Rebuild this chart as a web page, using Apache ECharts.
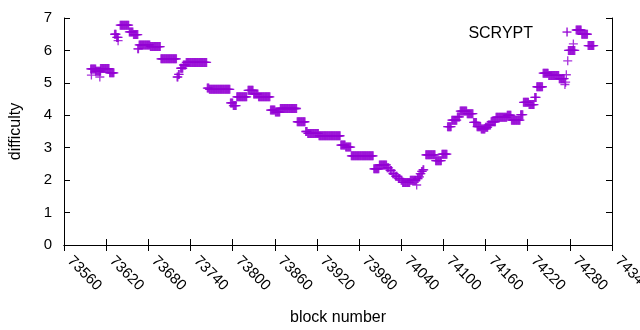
<!DOCTYPE html>
<html>
<head>
<meta charset="utf-8">
<script src="https://cdn.jsdelivr.net/npm/echarts@6/dist/echarts.min.js"></script>
<style>
html, body { margin: 0; padding: 0; background: #fff; }
#chart { width: 640px; height: 330px; }
</style>
</head>
<body>
<div id="chart"></div>
<script>
// difficulty stays flat over runs of blocks: [first block, last block, difficulty]
var runStart = [73598, 73599, 73605, 73611, 73612, 73625, 73632, 73635, 73637, 73640,
  73653, 73659, 73665, 73667, 73683, 73698, 73721, 73723, 73726, 73730,
  73734, 73764, 73767, 73797, 73801, 73806, 73822, 73830, 73837, 73854,
  73861, 73868, 73892, 73904, 73907, 73923, 73954, 73961, 73969, 74001,
  74009, 74020, 74024, 74028, 74032, 74036, 74040, 74042, 74053, 74062,
  74063, 74065, 74067, 74069, 74071, 74075, 74089, 74098, 74106, 74112,
  74120, 74124, 74134, 74143, 74148, 74154, 74160, 74164, 74168, 74175,
  74191, 74197, 74210, 74214, 74222, 74230, 74233, 74242, 74250, 74265,
  74273, 74274, 74275, 74277, 74278, 74285, 74289, 74297, 74306];
var runEnd = [73605, 73599, 73612, 73611, 73624, 73631, 73634, 73637, 73637, 73652,
  73658, 73665, 73666, 73682, 73697, 73720, 73722, 73724, 73729, 73733,
  73763, 73766, 73796, 73800, 73805, 73820, 73829, 73836, 73853, 73860,
  73867, 73891, 73903, 73906, 73922, 73953, 73960, 73968, 74000, 74008,
  74019, 74022, 74026, 74030, 74034, 74038, 74041, 74052, 74061, 74062,
  74064, 74066, 74068, 74070, 74072, 74088, 74097, 74105, 74111, 74119,
  74123, 74133, 74142, 74147, 74153, 74159, 74163, 74167, 74174, 74190,
  74196, 74209, 74213, 74221, 74229, 74232, 74241, 74249, 74264, 74272,
  74273, 74274, 74275, 74277, 74287, 74285, 74296, 74305, 74314];
var runDiff = [5.43, 5.24, 5.36, 5.18, 5.44, 5.31, 6.5, 6.4, 6.3, 6.78,
  6.57, 6.49, 6.05, 6.17, 6.12, 5.74, 5.18, 5.26, 5.45, 5.55,
  5.63, 4.84, 4.8, 4.38, 4.3, 4.57, 4.77, 4.66, 4.57, 4.16,
  4.1, 4.21, 3.8, 3.5, 3.44, 3.37, 3.08, 3.02, 2.75, 2.35,
  2.47, 2.38, 2.3, 2.2, 2.12, 2.05, 2.0, 1.93, 2.0, 1.85,
  2.05, 2.1, 2.2, 2.27, 2.32, 2.78, 2.6, 2.8, 3.65, 3.85,
  3.95, 4.13, 4.05, 3.78, 3.65, 3.58, 3.63, 3.7, 3.8, 3.94,
  4.0, 3.85, 4.02, 4.4, 4.33, 4.55, 4.88, 5.3, 5.23, 5.13,
  4.95, 5.02, 5.25, 5.68, 6.0, 6.2, 6.63, 6.5, 6.15];

var seriesName = 'SCRYPT';
var xMin = 73560, xMax = 74340, xStep = 60;
var yMin = 0, yMax = 7, yStep = 1;

var points = [];
for (var i = 0; i < runStart.length; i++) {
  for (var b = runStart[i]; b <= runEnd[i]; b++) {
    points.push([b, runDiff[i]]);
  }
}

var plus = 'path://M7.25,0H9.75V7.25H17V9.75H9.75V17H7.25V9.75H0V7.25H7.25Z';
var purple = '#9400d3';
var font = 'Liberation Sans';

var myChart = echarts.init(document.getElementById('chart'));

function frameAxis(pos, min, max, step) {
  return {
    type: 'value', position: pos, min: min, max: max, interval: step,
    axisLine: { show: true, lineStyle: { color: '#000', width: 1 } },
    axisTick: { show: true, inside: true, length: 6, lineStyle: { color: '#000' } },
    axisLabel: { show: false },
    splitLine: { show: false }
  };
}

var xBottom = frameAxis('bottom', xMin, xMax, xStep);
xBottom.name = 'block number';
xBottom.nameLocation = 'middle';
xBottom.nameGap = 65;
xBottom.nameTextStyle = { fontFamily: font, fontSize: 16, color: '#000' };
xBottom.axisLabel = {
  show: true, rotate: -45, margin: 8, padding: [0, 0, 0, 8],
  fontFamily: font, fontSize: 15, color: '#000',
  formatter: function (v) { return String(v); }
};

var yLeft = frameAxis('left', yMin, yMax, yStep);
yLeft.name = 'difficulty';
yLeft.nameLocation = 'middle';
yLeft.nameGap = 40;
yLeft.nameTextStyle = { fontFamily: font, fontSize: 16, color: '#000' };
yLeft.axisLabel = { show: true, margin: 12, fontFamily: font, fontSize: 15, color: '#000' };

var option = {
  animation: false,
  grid: { left: 64, right: 28, top: 18, bottom: 85, outerBoundsMode: 'none' },
  // key drawn like gnuplot: text right-aligned, sample point to its right
  graphic: [
    { type: 'text', x: 533, y: 33.5,
      style: { text: seriesName, align: 'right', verticalAlign: 'middle',
        font: '16px "Liberation Sans"', fill: '#000' } },
    { type: 'rect', shape: { x: 562.5, y: 31.4, width: 9, height: 1.3 }, style: { fill: purple } },
    { type: 'rect', shape: { x: 566.4, y: 27.5, width: 1.3, height: 9 }, style: { fill: purple } }
  ],
  xAxis: [xBottom, frameAxis('top', xMin, xMax, xStep)],
  yAxis: [yLeft, frameAxis('right', yMin, yMax, yStep)],
  series: [{
    name: seriesName,
    type: 'scatter',
    xAxisIndex: 0, yAxisIndex: 0,
    symbol: plus,
    symbolSize: 9,
    itemStyle: { color: purple },
    emphasis: { disabled: true },
    data: points
  }]
};
myChart.setOption(option);
</script>
</body>
</html>
